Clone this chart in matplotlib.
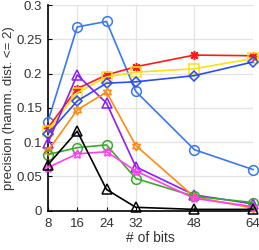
import numpy as np
import matplotlib
matplotlib.use("Agg")
import matplotlib.pyplot as plt

plt.rcParams['font.family'] = ['Liberation Sans', 'DejaVu Sans']

bits = [8, 16, 24, 32, 48, 64]

# one list per method
blue_circ = [0.130, 0.268, 0.276, 0.174, 0.089, 0.060]
red_ast = [0.121, 0.178, 0.198, 0.210, 0.227, 0.226]
yellow_sq = [0.117, 0.172, 0.195, 0.202, 0.207, 0.222]
blue_dia = [0.112, 0.160, 0.186, 0.188, 0.197, 0.217]
purple_tri = [0.099, 0.198, 0.157, 0.064, 0.023, 0.010]
orange_hex = [0.087, 0.147, 0.173, 0.095, 0.020, 0.004]
green_circ = [0.082, 0.092, 0.096, 0.047, 0.021, 0.012]
magenta_star = [0.063, 0.083, 0.086, 0.058, 0.018, 0.006]
black_tri = [0.067, 0.116, 0.031, 0.005, 0.002, 0.002]

series = [
    (blue_circ, '#3A78F0', 'o'),
    (red_ast, '#FF1A1A', (8, 2, 0)),
    (yellow_sq, '#FFE010', 's'),
    (blue_dia, '#2A4EF0', 'D'),
    (purple_tri, '#8A1EF5', '^'),
    (orange_hex, '#FF8A10', (6, 1, 0)),
    (green_circ, '#3AAA2A', 'o'),
    (magenta_star, '#FF40F0', (5, 1, 0)),
    (black_tri, '#000000', '^'),
]

fig = plt.figure(figsize=(2.59, 2.5), dpi=100)
ax = fig.add_axes([0.185, 0.157, 0.792, 0.823])

for vals, col, mk in series:
    ms = 7 if mk == 'o' else 6.5
    if mk == 'D':
        ms = 5
    ax.plot(bits, vals, color=col, marker=mk, ms=ms, lw=1.2,
            markerfacecolor='none', markeredgecolor=col, mew=1.1,
            clip_on=False, zorder=3)

ax.set_xlim(8, 64)
ax.set_ylim(0, 0.3)
ax.set_xticks(bits)
ax.set_yticks([0, 0.05, 0.1, 0.15, 0.2, 0.25, 0.3])
ax.set_yticklabels(['0', '0.05', '0.1', '0.15', '0.2', '0.25', '0.3'])
ax.grid(True, color='#E3E3E3', lw=0.9)
ax.set_axisbelow(True)
for s in ['top', 'right']:
    ax.spines[s].set_visible(False)
for s in ['left', 'bottom']:
    ax.spines[s].set_linewidth(1.2)
ax.tick_params(labelsize=9.5, colors='#333333', length=3, direction='in')
ax.tick_params(axis='x', pad=5)
ax.tick_params(axis='y', pad=4)
ax.tick_params(axis='both', color='black')
ax.set_xlabel('# of bits', fontsize=10, color='#333333', labelpad=1)
ax.set_ylabel('precision (hamm. dist. <= 2)', fontsize=9.5, color='#333333', labelpad=1)

fig.savefig('out.png', dpi=100)
